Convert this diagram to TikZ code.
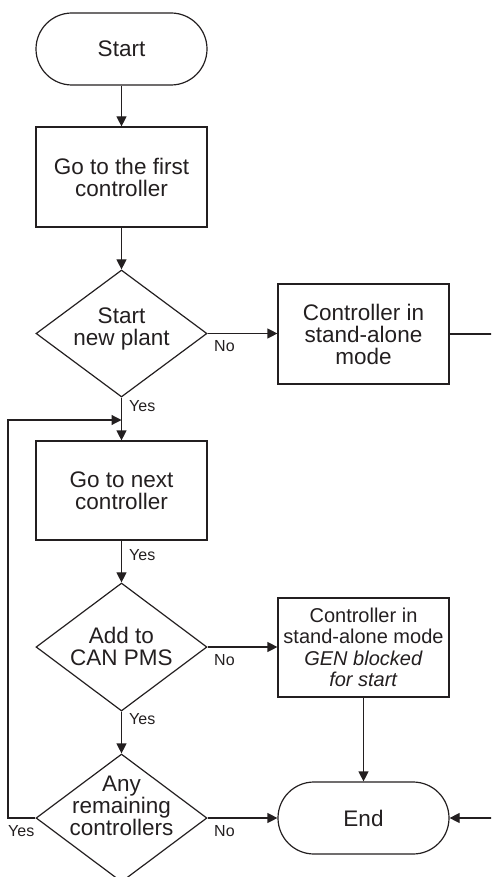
\documentclass[tikz,border=0pt]{standalone}
\usepackage{fontspec}
\setmainfont{Liberation Sans}
\usetikzlibrary{shapes.geometric,arrows.meta}
\definecolor{ink}{RGB}{35,31,32}
\begin{document}
\begin{tikzpicture}[x=1pt,y=-1pt,
  every node/.style={text=ink},
  base/.style={draw=ink, line width=1.2pt, inner sep=0pt, align=center, font=\fontsize{22.5}{22}\selectfont},
  term/.style={base, rectangle, rounded corners=36pt, minimum width=171pt, minimum height=72pt},
  proc/.style={base, rectangle, minimum width=171pt, minimum height=100pt},
  dec/.style={draw=ink, line width=1.2pt, diamond, inner sep=0pt, minimum width=171pt, minimum height=127pt},
  dtext/.style={align=center, inner sep=0pt, font=\fontsize{22.5}{22}\selectfont},
  lbl/.style={inner sep=0pt, font=\fontsize{16}{16}\selectfont},
  arr/.style={draw=ink, line width=1.2pt, -{Triangle[length=10pt,width=10pt]}},
  ln/.style={draw=ink, line width=1.2pt}
]
\useasboundingbox (0,0) rectangle (491,877);
\clip (0,0) rectangle (491,877);

\node[term] (start) at (121.5,49) {Start};
\node[proc] (b1) at (121.5,177) {Go to the first\\controller};
\node[dec] (d1) at (121.5,333.5) {};
\node[dtext] (d1t) at (121.5,329) {Start\\new plant};
\node[proc] (b2) at (363.5,334) {Controller in\\stand-alone\\mode};
\node[proc, minimum height=99pt] (b3) at (121.5,490.5) {Go to next\\controller};
\node[dec, minimum height=128pt] (d2) at (121.5,647) {};
\node[dtext] (d2t) at (121.5,646) {Add to\\CAN PMS};
\node[proc, minimum height=99pt, font=\fontsize{20}{21.5}\selectfont] (b4) at (363.5,647.5)
  {Controller in\\stand-alone mode\\\textit{GEN blocked}\\\textit{for start}};
\node[dec, minimum height=128pt] (d3) at (121.5,818) {};
\node[dtext] (d3t) at (121.5,806) {Any\\remaining\\controllers};
\node[term] (end) at (363.5,818) {End};

\coordinate (j) at (121.5,420);
\coordinate (lb) at (8,420);
\coordinate (r1) at (500,333);
\coordinate (r2) at (500,818);

\draw[arr] (start) -- (b1);
\draw[arr] (b1) -- (d1);
\draw[arr] (d1.east) -- (d1.east -| b2.west);
\draw[ln] (b2.east) -- (b2.east -| r1);
\draw[arr] (d1.south) -- (b3.north);
\draw[arr] (b3) -- (d2);
\draw[arr] (d2.east) -- (d2.east -| b4.west);
\draw[arr] (d2) -- (d3);
\draw[arr] (b4) -- (end);
\draw[arr] (d3) -- (end);
\draw[arr] (d3.west) -| (lb) -- (j);
\draw[arr] (r2) -- (end.east);

\node[lbl, anchor=west] (y1) at (129,406) {Yes};
\node[lbl, anchor=west] (n1) at (214,346) {No};
\node[lbl, anchor=west] (y2) at (129,555) {Yes};
\node[lbl, anchor=west] (n2) at (214,660) {No};
\node[lbl, anchor=west] (y3) at (129,719) {Yes};
\node[lbl, anchor=west] (n3) at (214,831) {No};
\node[lbl, anchor=west] (y4) at (8,831) {Yes};
\end{tikzpicture}
\end{document}
